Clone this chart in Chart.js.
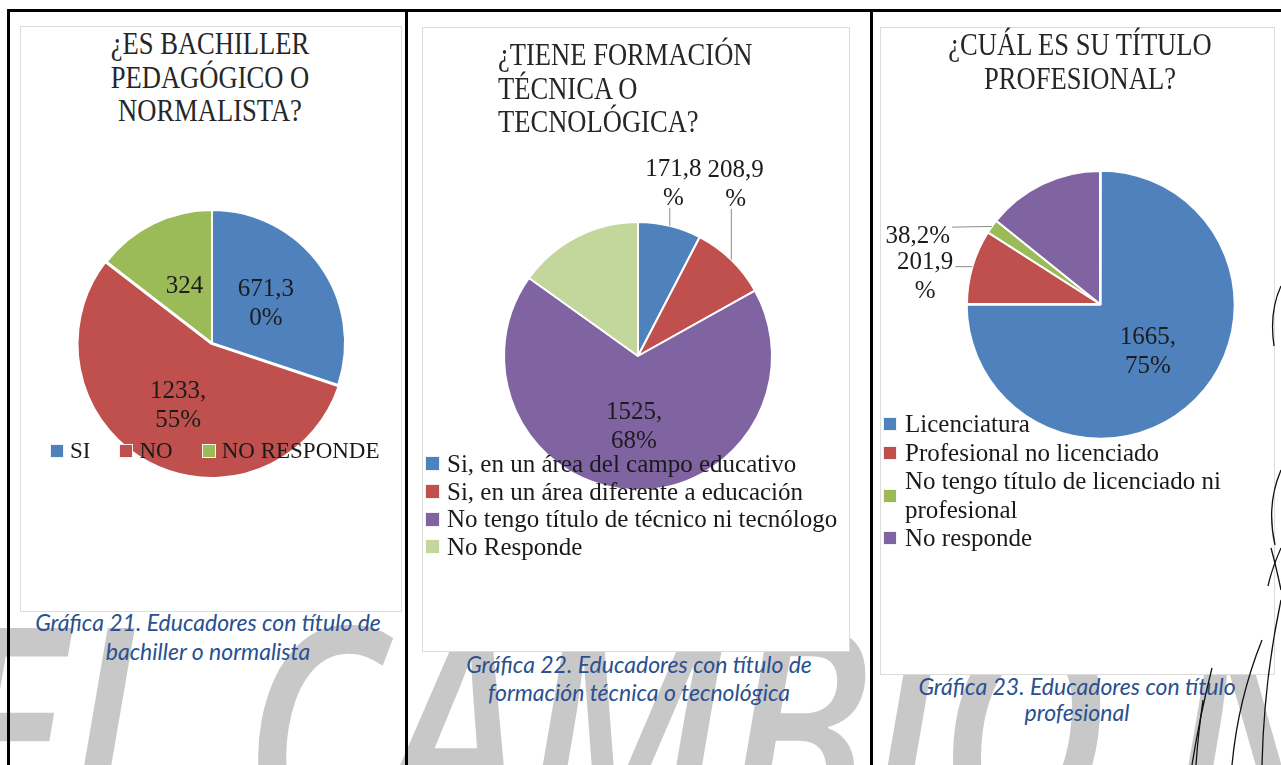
<!DOCTYPE html>
<html>
<head>
<meta charset="utf-8">
<script src="https://cdn.jsdelivr.net/npm/chart.js@4.4.0/dist/chart.umd.min.js"></script>
<style>
  html, body { margin:0; padding:0; background:#fff; width:1281px; height:765px; overflow:hidden; }
  #stage { position:relative; width:1281px; height:765px; overflow:hidden; background:#fff; }
  .wm { position:absolute; left:0; top:0; z-index:0; }
  .box { position:absolute; background:#fff; border:1px solid #dcdcdc; z-index:1; }
  canvas { position:absolute; z-index:2; }
  .title { position:absolute; z-index:3; font-family:'Liberation Serif', serif; font-size:32px; line-height:33.5px;
           color:#262626; white-space:nowrap; transform:scaleX(0.83); }
  .legend { position:absolute; z-index:3; font-family:'Liberation Serif', serif; color:#1a1a1a; }
  .legend .item { display:flex; align-items:center; }
  .legend .sw { flex:none; box-sizing:border-box; }
  .cap { position:absolute; z-index:3; font-family:'Lato', 'Open Sans', sans-serif; font-style:italic; font-size:23px;
         color:#2A5090; text-align:center; white-space:nowrap; }
  .rule { position:absolute; background:#000; z-index:5; }
  .deco { position:absolute; left:0; top:0; z-index:6; pointer-events:none; }
</style>
</head>
<body>
<div id="stage">
  <svg class="wm" width="1281" height="765">
    <text x="-60" y="835" font-family="Open Sans" font-style="italic" font-weight="600" font-size="290"
          fill="#c8c8c8" textLength="1400" lengthAdjust="spacingAndGlyphs">EL CAMBIO N</text>
  </svg>

  <div class="box" style="left:20px;top:26px;width:380px;height:584px;"></div>
  <div class="box" style="left:422px;top:27px;width:426px;height:623px;"></div>
  <div class="box" style="left:880px;top:27px;width:393px;height:646px;"></div>

  <canvas id="c1" width="300" height="300" style="left:62px;top:193px;"></canvas>
  <canvas id="c2" width="440" height="440" style="left:418px;top:136px;"></canvas>
  <canvas id="c3" width="460" height="460" style="left:870px;top:74px;"></canvas>

  <div id="t1" class="title" style="left:20px;width:380px;top:27px;text-align:center;transform-origin:190px 0;"></div>
  <div id="t2" class="title" style="left:498px;top:38px;text-align:left;transform-origin:0 0;"></div>
  <div id="t3" class="title" style="left:880px;width:400px;top:27px;line-height:34px;text-align:center;transform-origin:200px 0;"></div>

  <div id="lg1" class="legend" style="left:50px;top:439px;font-size:23px;line-height:23px;display:flex;gap:29px;"></div>
  <div id="lg2" class="legend" style="left:425px;top:450px;font-size:25px;line-height:27.7px;"></div>
  <div id="lg3" class="legend" style="left:883px;top:410px;font-size:25px;line-height:28.5px;width:345px;"></div>

  <div id="cap1" class="cap" style="left:8px;width:400px;top:608px;line-height:29px;"></div>
  <div id="cap2" class="cap" style="left:439px;width:400px;top:650px;line-height:28px;"></div>
  <div id="cap3" class="cap" style="left:877px;width:400px;top:673px;line-height:26px;"></div>

  <div class="rule" style="left:7px;top:9px;width:1274px;height:3px;"></div>
  <div class="rule" style="left:7px;top:9px;width:3px;height:756px;"></div>
  <div class="rule" style="left:405px;top:9px;width:3px;height:756px;"></div>
  <div class="rule" style="left:870px;top:9px;width:3px;height:756px;"></div>

  <svg class="deco" width="1281" height="765" fill="none" stroke="#111" stroke-width="1.3">
    <path d="M1281,286 Q1269,312 1274,346"/>
    <path d="M1281,470 Q1266,505 1275,545"/>
    <path d="M1271,548 Q1276,566 1281,590"/>
    <path d="M1281,548 Q1272,568 1268,586"/>
    <path d="M1281,600 Q1264,680 1262,765"/>
    <path d="M1262,640 Q1238,700 1232,765"/>
    <path d="M1212,668 Q1200,715 1192,765"/>
    <path d="M1203,700 Q1198,735 1196,765"/>
  </svg>
</div>

<script>
// ---------- data ----------
const titles1 = ['¿ES BACHILLER', 'PEDAGÓGICO O', 'NORMALISTA?'];
const cats1   = ['SI', 'NO', 'NO RESPONDE'];
const vals1   = [671, 1233, 324];
const text1   = [['671,3', '0%'], ['1233,', '55%'], ['324']];
const caption1 = ['Gráfica 21. Educadores con título de', 'bachiller o normalista'];

const titles2 = ['¿TIENE FORMACIÓN', 'TÉCNICA O', 'TECNOLÓGICA?'];
const cats2   = ['Si, en un área del campo educativo', 'Si, en un área diferente a educación',
                 'No tengo título de técnico ni tecnólogo', 'No Responde'];
const vals2   = [171, 208, 1525, 339];
const text2   = [['171,8', '%'], ['208,9', '%'], ['1525,', '68%'], []];
const caption2 = ['Gráfica 22. Educadores con título de', 'formación técnica o tecnológica'];

const titles3 = ['¿CUÁL ES SU TÍTULO', 'PROFESIONAL?'];
const cats3   = ['Licenciatura', 'Profesional no licenciado',
                 'No tengo título de licenciado ni profesional', 'No responde'];
const vals3   = [1665, 201, 38, 316];
const text3   = [['1665,', '75%'], ['201,9', '%'], ['38,2%'], []];
const caption3 = ['Gráfica 23. Educadores con título', 'profesional'];

// ---------- styles ----------
const BLUE = '#4F81BD', RED = '#C0504D', GREEN = '#9BBB59', PURPLE = '#8064A2', LGREEN = '#C3D69B';
const palette1 = [BLUE, RED, GREEN];
const palette2 = [BLUE, RED, PURPLE, LGREEN];
const palette3 = [BLUE, RED, GREEN, PURPLE];

// ---------- text blocks ----------
function fillLines(id, lines) { document.getElementById(id).innerHTML = lines.join('<br>'); }
fillLines('t1', titles1); fillLines('t2', titles2); fillLines('t3', titles3);
fillLines('cap1', caption1); fillLines('cap2', caption2); fillLines('cap3', caption3);

function buildLegend(id, cats, colors, sw, gapText) {
  const el = document.getElementById(id);
  cats.forEach((c, i) => {
    const it = document.createElement('div'); it.className = 'item';
    const s = document.createElement('span'); s.className = 'sw';
    s.style.width = sw + 'px'; s.style.height = sw + 'px'; s.style.background = colors[i];
    s.style.border = '1px solid rgba(255,255,255,0.9)'; s.style.marginRight = gapText + 'px';
    const t = document.createElement('span'); t.textContent = c;
    it.appendChild(s); it.appendChild(t); el.appendChild(it);
  });
}
buildLegend('lg1', cats1, palette1, 14, 6);
buildLegend('lg2', cats2, palette2, 15, 7);
buildLegend('lg3', cats3, palette3, 14, 8);

// ---------- slice label plugin ----------
const sliceLabels = {
  id: 'sliceLabels',
  afterDatasetsDraw(chart, args, opts) {
    const ctx = chart.ctx;
    const meta = chart.getDatasetMeta(0);
    ctx.save();
    ctx.font = opts.font;
    ctx.textAlign = 'center';
    ctx.textBaseline = 'middle';
    meta.data.forEach((arc, i) => {
      const lines = opts.lines[i];
      if (!lines || !lines.length) return;
      const p = arc.getProps(['x', 'y', 'startAngle', 'endAngle', 'outerRadius']);
      const mid = (p.startAngle + p.endAngle) / 2;
      const pl = opts.place[i] || {};
      const th = (pl.a != null) ? pl.a * Math.PI / 180 - Math.PI / 2 : mid;
      const f = (pl.f != null) ? pl.f : 0.5;
      const r = p.outerRadius;
      const bx = p.x + f * r * Math.cos(th), by = p.y + f * r * Math.sin(th);
      const lh = opts.lineHeight, n = lines.length;
      let w = 0; lines.forEach(t => { w = Math.max(w, ctx.measureText(t).width); });
      if (pl.leader) {
        const ex = p.x + r * Math.cos(mid), ey = p.y + r * Math.sin(mid);
        const half = n * lh / 2 - 5;
        const qx = Math.min(Math.max(ex, bx - w / 2 - 2), bx + w / 2 + 2);
        const qy = Math.min(Math.max(ey, by - half), by + half);
        ctx.strokeStyle = '#8c8c8c'; ctx.lineWidth = 1;
        ctx.beginPath(); ctx.moveTo(ex, ey); ctx.lineTo(qx, qy); ctx.stroke();
      }
      ctx.fillStyle = opts.color;
      lines.forEach((t, k) => ctx.fillText(t, bx, by + (k - (n - 1) / 2) * lh));
    });
    ctx.restore();
  }
};

function makePie(id, cats, vals, colors, cfg) {
  return new Chart(document.getElementById(id), {
    type: 'pie',
    data: {
      labels: cats,
      datasets: [{
        data: vals,
        backgroundColor: colors,
        borderColor: '#ffffff',
        borderWidth: 2,
        offset: cfg.offset,
        radius: cfg.radius
      }]
    },
    options: {
      responsive: false,
      animation: false,
      layout: { padding: 0 },
      plugins: {
        legend: { display: false },
        tooltip: { enabled: false },
        sliceLabels: {
          lines: cfg.lines,
          place: cfg.place,
          font: '25px "Liberation Serif", serif',
          color: '#1c1c1c',
          lineHeight: 29
        }
      }
    },
    plugins: [sliceLabels]
  });
}

makePie('c1', cats1, vals1, palette1, {
  radius: 133, offset: [0, 4, 0], lines: text1,
  place: [{ f: 0.5 }, { f: 0.54 }, { f: 0.47 }]
});
makePie('c2', cats2, vals2, palette2, {
  radius: 134, offset: [0, 0, 0, 0], lines: text2,
  place: [{ a: 11.6, f: 1.31, leader: true }, { a: 29.7, f: 1.47, leader: true }, { f: 0.53 }, {}]
});
makePie('c3', cats3, vals3, palette3, {
  radius: 133, offset: [4, 0, 0, 0], lines: text3,
  place: [{ f: 0.51 }, { a: 278.8, f: 1.33, leader: true }, { a: 290.3, f: 1.46, leader: true }, {}]
});
</script>
</body>
</html>
